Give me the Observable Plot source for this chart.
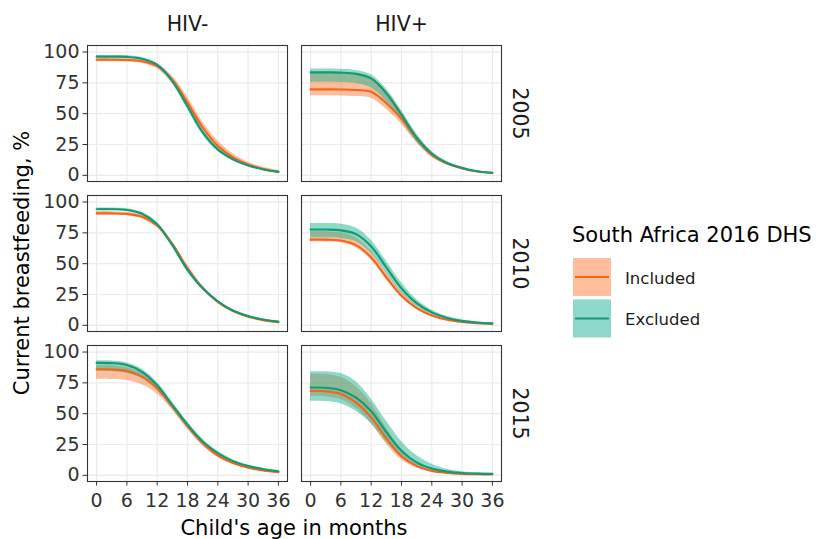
<!DOCTYPE html>
<html>
<head>
<meta charset="utf-8">
<script src="https://cdn.jsdelivr.net/npm/d3@7"></script>
<script src="https://cdn.jsdelivr.net/npm/@observablehq/plot@0.6"></script>
<style>
  html, body { margin: 0; padding: 0; background: white; }
  #chart { position: relative; width: 832px; height: 539px; }
</style>
</head>
<body>
<div id="chart"></div>
<script>
// ---- data ----
const ages = [0, 3, 6, 9, 12, 15, 18, 21, 24, 27, 30, 33, 36];
const xTicks = [0, 6, 12, 18, 24, 30, 36];
const yTicks = [0, 25, 50, 75, 100];
const hivLabels = ["HIV-", "HIV+"];
const yearLabels = ["2005", "2010", "2015"];
const groupLabels = ["Included", "Excluded"];
const legendTitle = "South Africa 2016 DHS";
const xTitle = "Child's age in months";
const yTitle = "Current breastfeeding, %";

// HIV-, 2005
const negInc05   = [93.8, 93.8, 93.6, 92.5, 88.5, 77.5, 59, 39, 24, 14.5, 8.8, 5.2, 3];
const negInc05Lo = [92.2, 92.2, 92, 90.8, 86.5, 74.5, 54.5, 34.5, 20.5, 12, 7, 4, 2.2];
const negInc05Hi = [95.4, 95.4, 95.2, 94.2, 90.5, 80.5, 63.5, 43.5, 28, 17.5, 10.7, 6.5, 3.9];
const negExc05   = [96.3, 96.3, 96.1, 94.5, 89.5, 76.5, 56, 35, 21, 13, 8, 4.8, 2.8];
const negExc05Lo = [95.5, 95.5, 95.3, 93.6, 88, 74.5, 53.5, 32.8, 19.3, 11.8, 7.2, 4.3, 2.4];
const negExc05Hi = [97.1, 97.1, 96.9, 95.4, 91, 78.5, 58.5, 37.2, 22.7, 14.2, 8.8, 5.3, 3.2];
// HIV+, 2005
const posInc05   = [69.7, 69.7, 69.6, 69.2, 67.8, 58.5, 46, 29.5, 16.5, 9.5, 5.6, 3.1, 1.9];
const posInc05Lo = [64.5, 64.5, 64.4, 64, 62.5, 53.5, 41.5, 26.5, 14.5, 8.3, 4.9, 2.7, 1.6];
const posInc05Hi = [83.5, 83.5, 83.3, 82.5, 79, 68.5, 52, 33, 19, 11, 6.5, 3.6, 2.2];
const posExc05   = [83.5, 83.5, 83.3, 82.3, 78.6, 66.5, 49, 30.5, 17.5, 10, 6, 3.3, 2];
const posExc05Lo = [75.5, 75.5, 75.3, 74.5, 71, 60, 44, 27, 15.5, 8.8, 5.3, 2.9, 1.7];
const posExc05Hi = [86.2, 86.2, 86, 85, 81.5, 70, 52.5, 33.5, 19.5, 11.2, 6.7, 3.8, 2.4];
// HIV-, 2010
const negInc10   = [90.8, 90.8, 90.3, 88, 81, 66, 46.5, 30.5, 19, 11.5, 7, 4.2, 2.5];
const negInc10Lo = [89.4, 89.4, 88.9, 86.5, 79.2, 64, 44.5, 29, 17.8, 10.7, 6.4, 3.8, 2.2];
const negInc10Hi = [92.2, 92.2, 91.7, 89.5, 82.8, 68, 48.5, 32, 20.2, 12.3, 7.6, 4.6, 2.8];
const negExc10   = [94.2, 94.2, 93.6, 90.5, 82, 65, 45, 30, 19.5, 12, 7.5, 4.8, 3];
const negExc10Lo = [93.2, 93.2, 92.6, 89.3, 80.5, 63.3, 43.5, 28.8, 18.6, 11.4, 7.1, 4.5, 2.8];
const negExc10Hi = [95.2, 95.2, 94.6, 91.7, 83.5, 66.7, 46.5, 31.2, 20.4, 12.6, 7.9, 5.1, 3.2];
// HIV+, 2010
const posInc10   = [69.5, 69.5, 68.8, 65, 55, 39, 24, 14, 8, 4.5, 2.7, 1.7, 1.2];
const posInc10Lo = [67.5, 67.5, 67, 63, 53, 37, 22.5, 13, 7.2, 4, 2.4, 1.5, 1];
const posInc10Hi = [76, 76, 75, 71, 60, 43, 27, 16, 9.2, 5.3, 3.2, 2, 1.4];
const posExc10   = [77.7, 77.7, 77, 74, 64, 47, 30, 18, 10.5, 6, 3.6, 2.3, 1.6];
const posExc10Lo = [71, 71, 70.5, 68, 58.5, 42.5, 26.5, 15.5, 9, 5, 3, 1.9, 1.3];
const posExc10Hi = [82.5, 82.5, 82, 79, 69, 52, 34.5, 21, 12.5, 7.3, 4.4, 2.8, 2];
// HIV-, 2015
const negInc15   = [86, 85.8, 84.5, 80, 70.5, 56, 40, 26, 16, 10, 6.2, 3.9, 2.5];
const negInc15Lo = [78, 77.8, 77, 73.5, 66, 53, 37.5, 24, 14.6, 9, 5.5, 3.4, 2.1];
const negInc15Hi = [89, 88.8, 87.5, 83, 73.5, 58.5, 42.5, 28, 17.5, 11.2, 7, 4.5, 2.9];
const negExc15   = [91.2, 91, 89.5, 84, 73, 57, 41, 27.5, 18, 11.5, 7.5, 5, 3.3];
const negExc15Lo = [84.5, 84.3, 83, 78.5, 69, 54, 38.5, 25.5, 16.5, 10.5, 6.7, 4.4, 2.8];
const negExc15Hi = [92.8, 92.7, 91.2, 86, 75.5, 59.5, 43.5, 29.5, 19.5, 12.7, 8.4, 5.7, 3.9];
// HIV+, 2015
const posInc15   = [68.5, 68.2, 66, 59, 47, 30, 15.5, 7.5, 3.6, 2, 1.2, 0.9, 0.7];
const posInc15Lo = [64, 63.8, 61.5, 54.5, 42, 25.5, 12.5, 6, 2.8, 1.5, 0.9, 0.6, 0.5];
const posInc15Hi = [82, 81.8, 79.5, 72, 58, 38.5, 21, 10.5, 5, 2.7, 1.6, 1.1, 0.9];
const posExc15   = [71.2, 71, 69, 63, 52, 35, 20, 10.5, 5.5, 3, 1.9, 1.4, 1.2];
const posExc15Lo = [60, 59.8, 58, 52, 42, 27, 14.5, 7.5, 3.8, 2.1, 1.3, 0.9, 0.7];
const posExc15Hi = [84, 84, 82.5, 76, 62, 44, 27.5, 16, 9, 5, 3, 2, 1.6];

// ---- build table ----
const rows = [];
function add(hiv, year, group, mid, lo, hi) {
  ages.forEach((a, i) => rows.push({hiv, year, group, age: a, value: mid[i], lo: lo[i], hi: hi[i]}));
}
add("HIV-", "2005", "Included", negInc05, negInc05Lo, negInc05Hi);
add("HIV-", "2005", "Excluded", negExc05, negExc05Lo, negExc05Hi);
add("HIV+", "2005", "Included", posInc05, posInc05Lo, posInc05Hi);
add("HIV+", "2005", "Excluded", posExc05, posExc05Lo, posExc05Hi);
add("HIV-", "2010", "Included", negInc10, negInc10Lo, negInc10Hi);
add("HIV-", "2010", "Excluded", negExc10, negExc10Lo, negExc10Hi);
add("HIV+", "2010", "Included", posInc10, posInc10Lo, posInc10Hi);
add("HIV+", "2010", "Excluded", posExc10, posExc10Lo, posExc10Hi);
add("HIV-", "2015", "Included", negInc15, negInc15Lo, negInc15Hi);
add("HIV-", "2015", "Excluded", negExc15, negExc15Lo, negExc15Hi);
add("HIV+", "2015", "Included", posInc15, posInc15Lo, posInc15Hi);
add("HIV+", "2015", "Excluded", posExc15, posExc15Lo, posExc15Hi);

const inc = rows.filter(d => d.group === "Included");
const exc = rows.filter(d => d.group === "Excluded");

const lineColor = {Included: "#F2651A", Excluded: "#139A74"};
const fillColor = {Included: "#FB7D3D", Excluded: "#1DB393"};
const fillAlpha = 0.5;
const curve = "catmull-rom";

const topLabels = hivLabels.map(h => ({hiv: h, year: yearLabels[0]}));
const sideLabels = yearLabels.map(y => ({hiv: hivLabels[1], year: y}));

const font = "'DejaVu Sans', sans-serif";

const plot = Plot.plot({
  width: 832,
  height: 539,
  marginLeft: 86,
  marginRight: 330,
  marginTop: 44,
  marginBottom: 57,
  style: {fontFamily: font, fontSize: "19px", background: "white", overflow: "visible"},
  x: {domain: [-1.8, 37.8]},
  y: {domain: [-5, 105.3]},
  fx: {domain: hivLabels, paddingInner: 0.065, paddingOuter: 0, axis: null},
  fy: {domain: yearLabels, paddingInner: 0.093, paddingOuter: 0, axis: null},
  marks: [
    Plot.gridX({ticks: xTicks, stroke: "#EBEBEB", strokeOpacity: 1, strokeWidth: 1.2}),
    Plot.gridY({ticks: yTicks, stroke: "#EBEBEB", strokeOpacity: 1, strokeWidth: 1.2}),
    Plot.areaY(inc, {x: "age", y1: "lo", y2: "hi", fx: "hiv", fy: "year", fill: fillColor.Included, fillOpacity: fillAlpha, curve}),
    Plot.areaY(exc, {x: "age", y1: "lo", y2: "hi", fx: "hiv", fy: "year", fill: fillColor.Excluded, fillOpacity: fillAlpha, curve}),
    Plot.lineY(inc, {x: "age", y: "value", fx: "hiv", fy: "year", stroke: lineColor.Included, strokeWidth: 2.1, curve}),
    Plot.lineY(exc, {x: "age", y: "value", fx: "hiv", fy: "year", stroke: lineColor.Excluded, strokeWidth: 2.1, curve}),
    Plot.frame({stroke: "#333333", strokeWidth: 1.1}),
    Plot.axisX({ticks: xTicks, anchor: "bottom", tickSize: 4.5, tickPadding: 7, fontSize: 19, label: null, color: "#333333", stroke: "#333333"}),
    Plot.axisY({ticks: yTicks, anchor: "left", tickSize: 4.5, tickPadding: 3.5, fontSize: 19, label: null, color: "#333333", stroke: "#333333"}),
    Plot.text(topLabels, {fx: "hiv", fy: "year", text: "hiv", frameAnchor: "top", lineAnchor: "middle", textAnchor: "middle", dy: -21, fontSize: 20.5, fill: "#1A1A1A"}),
    Plot.text(sideLabels, {fx: "hiv", fy: "year", text: "year", frameAnchor: "right", lineAnchor: "middle", textAnchor: "middle", dx: 18, rotate: 90, fontSize: 20.5, fill: "#1A1A1A"})
  ]
});

document.getElementById("chart").appendChild(plot);

// ---- titles and legend (text) ----
const svg = d3.select(plot);
svg.append("text")
  .attr("transform", "translate(29,263) rotate(-90)")
  .attr("text-anchor", "middle")
  .attr("font-size", 21)
  .attr("fill", "black")
  .text(yTitle);
svg.append("text")
  .attr("x", 294).attr("y", 535)
  .attr("text-anchor", "middle")
  .attr("font-size", 21)
  .attr("fill", "black")
  .text(xTitle);

const lg = svg.append("g").attr("text-anchor", "start");
lg.append("text").attr("x", 572).attr("y", 241.5).attr("text-anchor", "start")
  .attr("font-size", 21).attr("fill", "black").text(legendTitle);
groupLabels.forEach((g, i) => {
  const y0 = 258 + i * 41.5;
  lg.append("rect").attr("x", 573).attr("y", y0).attr("width", 38).attr("height", 38)
    .attr("fill", fillColor[g]).attr("fill-opacity", fillAlpha);
  lg.append("line").attr("x1", 575).attr("x2", 609).attr("y1", y0 + 19).attr("y2", y0 + 19)
    .attr("stroke", lineColor[g]).attr("stroke-width", 2.1);
  lg.append("text").attr("x", 625).attr("y", y0 + 25.5).attr("text-anchor", "start")
    .attr("font-size", 16.5).attr("fill", "#1A1A1A").text(g);
});
</script>
</body>
</html>
